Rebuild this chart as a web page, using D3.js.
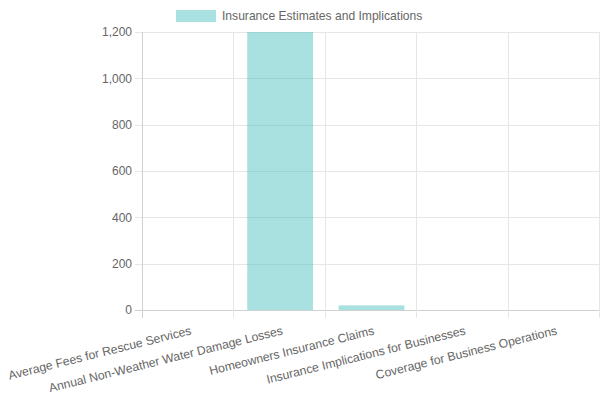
<!DOCTYPE html>
<html>
<head>
<meta charset="utf-8">
<script src="https://cdn.jsdelivr.net/npm/d3@7"></script>
<style>
  html, body { margin: 0; padding: 0; background: #fff; }
  svg { display: block; font-family: "Liberation Sans", Arial, Helvetica, sans-serif; }
</style>
</head>
<body>
<svg id="chart" width="600" height="400"></svg>
<script>
const categories = [
  "Average Fees for Rescue Services",
  "Annual Non-Weather Water Damage Losses",
  "Homeowners Insurance Claims",
  "Insurance Implications for Businesses",
  "Coverage for Business Operations"
];
const values = [0, 1500, 20, 0, 0];
const yTicks = [0, 200, 400, 600, 800, 1000, 1200];
const seriesName = "Insurance Estimates and Implications";

const W = 600, H = 400;
const margin = { left: 143, right: 0, top: 32, bottom: 90 };
const svg = d3.select("#chart");

const x = d3.scaleBand().domain(categories).range([margin.left, W - margin.right]).paddingInner(0).paddingOuter(0);
const y = d3.scaleLinear().domain([0, 1200]).range([H - margin.bottom, margin.top]);

const gridColor = "#e6e6e6";
const axisColor = "#d0d0d0";
const textColor = "#666";

// horizontal grid lines + tick marks
svg.append("g").selectAll("line").data(yTicks).join("line")
  .attr("x1", margin.left - 8).attr("x2", W - margin.right)
  .attr("y1", d => Math.round(y(d)) + 0.5).attr("y2", d => Math.round(y(d)) + 0.5)
  .attr("stroke", d => d === 0 ? axisColor : gridColor).attr("stroke-width", 1);

// vertical grid lines
const xEdges = categories.map(c => x(c)).concat([W - margin.right]);
svg.append("g").selectAll("line").data(xEdges).join("line")
  .attr("x1", d => Math.round(d) - 0.5).attr("x2", d => Math.round(d) - 0.5)
  .attr("y1", margin.top).attr("y2", H - margin.bottom + 8)
  .attr("stroke", (d, i) => i === 0 ? axisColor : gridColor).attr("stroke-width", 1);

// bars
const bw = x.bandwidth() * 0.72;
svg.append("defs").append("clipPath").attr("id", "plotClip")
  .append("rect").attr("x", margin.left).attr("y", margin.top)
  .attr("width", W - margin.left - margin.right).attr("height", H - margin.top - margin.bottom);
svg.append("g").attr("clip-path", "url(#plotClip)")
  .selectAll("rect").data(categories.map((c, i) => ({ c, v: values[i] }))).join("rect")
  .attr("x", d => x(d.c) + (x.bandwidth() - bw) / 2)
  .attr("width", bw)
  .attr("y", d => y(d.v))
  .attr("height", d => y(0) - y(d.v))
  .attr("fill", "rgba(75,192,192,0.48)");

// y tick labels
svg.append("g").selectAll("text").data(yTicks).join("text")
  .attr("x", margin.left - 11).attr("y", d => y(d))
  .attr("dy", "0.35em")
  .attr("text-anchor", "end")
  .attr("font-size", 12).attr("fill", textColor)
  .text(d => d3.format(",")(d));

// x tick labels (rotated)
const angle = -14;
svg.append("g").selectAll("text").data(categories).join("text")
  .attr("transform", d => `translate(${x(d) + x.bandwidth() / 2 + 2.3},${H - margin.bottom + 20}) rotate(${angle})`)
  .attr("text-anchor", "end")
  .attr("dy", "0.35em")
  .attr("font-size", 12.2).attr("fill", textColor)
  .text(d => d);

// legend
const lg = svg.append("g");
lg.append("rect").attr("x", 176).attr("y", 10).attr("width", 40).attr("height", 12)
  .attr("fill", "rgba(75,192,192,0.48)");
lg.append("text").attr("x", 222).attr("y", 16).attr("dy", "0.35em")
  .attr("font-size", 12.1).attr("fill", textColor).text(seriesName);
</script>
</body>
</html>
